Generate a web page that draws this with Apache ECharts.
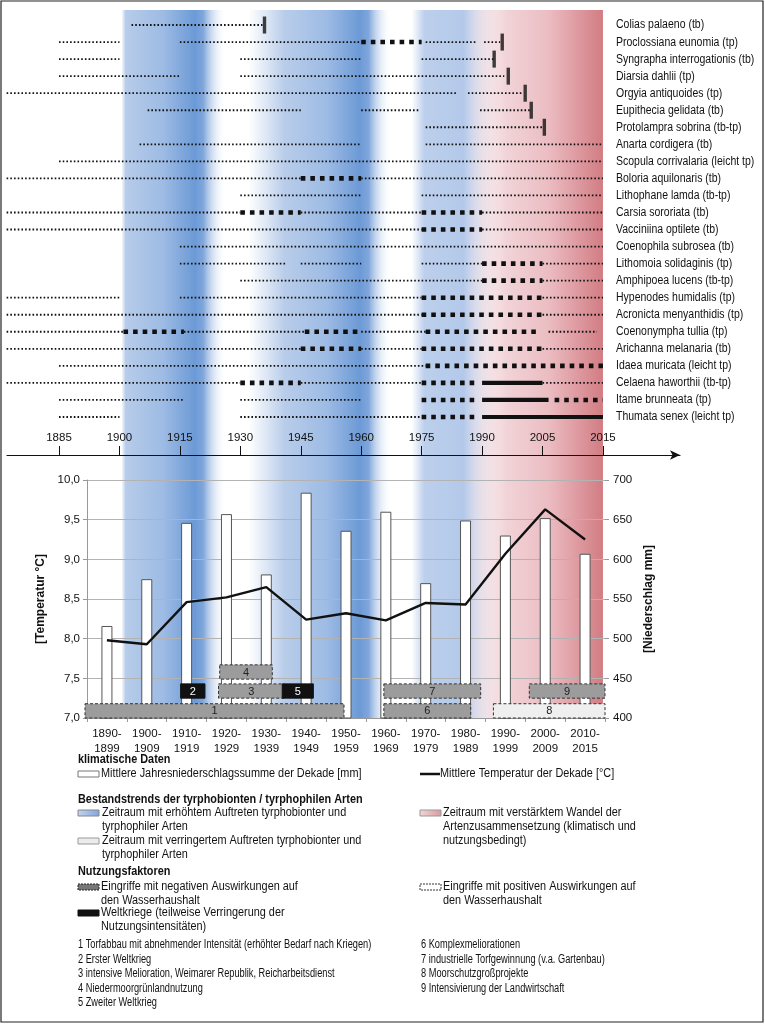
<!DOCTYPE html>
<html><head><meta charset="utf-8">
<script src="https://cdn.jsdelivr.net/npm/echarts@6/dist/echarts.min.js"></script>
<style>html,body{margin:0;padding:0;background:#fff}#c{width:765px;height:1024px}</style>
</head><body><div id="c"></div>
<script>
const FONT = '"Liberation Sans",Arial,sans-serif';

// ---------- DATA: timeline of species records ----------
const timelineTicks = ['1885','1900','1915','1930','1945','1960','1975','1990','2005','2015'];
const tickYears = [1885,1900,1915,1930,1945,1960,1975,1990,2005,2015];
const species = [
  'Colias palaeno (tb)','Proclossiana eunomia (tp)','Syngrapha interrogationis (tb)','Diarsia dahlii (tp)',
  'Orgyia antiquoides (tp)','Eupithecia gelidata (tb)','Protolampra sobrina (tb-tp)','Anarta cordigera (tb)',
  'Scopula corrivalaria (leicht tp)','Boloria aquilonaris (tb)','Lithophane lamda (tb-tp)','Carsia sororiata (tb)',
  'Vacciniina optilete (tb)','Coenophila subrosea (tb)','Lithomoia solidaginis (tp)','Amphipoea lucens (tb-tp)',
  'Hypenodes humidalis (tp)','Acronicta menyanthidis (tp)','Coenonympha tullia (tp)','Arichanna melanaria (tb)',
  'Idaea muricata (leicht tp)','Celaena haworthii (tb-tp)','Itame brunneata (tp)','Thumata senex (leicht tp)'
];
// record classes: r = vereinzelt, f = regelmäßig, a = häufig
const records = [
  [[1903,1935.5,'r']],
  [[1885,1900,'r'],[1915,1960,'r'],[1960,1975,'f'],[1976,1988.5,'r'],[1990.5,1994.5,'r']],
  [[1885,1900,'r'],[1930,1960,'r'],[1975,1992.8,'r']],
  [[1885,1915,'r'],[1930,1995.5,'r']],
  [[1872,1983.5,'r'],[1986.5,2000.2,'r']],
  [[1907,1945,'r'],[1960,1974.6,'r'],[1989.5,2002,'r']],
  [[1976,2005,'r']],
  [[1905,1960,'r'],[1976,2015,'r']],
  [[1885,2015,'r']],
  [[1872,1945,'r'],[1945,1960,'f'],[1960,2015,'r']],
  [[1930,1960,'r'],[1975,2015,'r']],
  [[1872,1930,'r'],[1930,1945,'f'],[1945,1975,'r'],[1975,1990,'f'],[1990,2015,'r']],
  [[1872,1975,'r'],[1975,1990,'f'],[1990,2015,'r']],
  [[1915,2015,'r']],
  [[1915,1941.5,'r'],[1945,1960,'r'],[1975,1990,'r'],[1990,2005,'f'],[2005,2015,'r']],
  [[1930,1990,'r'],[1990,2005,'f'],[2005,2015,'r']],
  [[1872,1900,'r'],[1915,1975,'r'],[1975,2005,'f'],[2005,2015,'r']],
  [[1872,1975,'r'],[1975,2005,'f'],[2005,2015,'r']],
  [[1872,1901,'r'],[1901,1916,'f'],[1916,1946,'r'],[1946,1960,'f'],[1960,1976,'r'],[1976,2004.5,'f'],[2006,2014,'r']],
  [[1872,1945,'r'],[1945,1960,'f'],[1960,1975,'r'],[1975,2005,'f'],[2005,2015,'r']],
  [[1885,1976,'r'],[1976,2015,'f']],
  [[1872,1930,'r'],[1930,1945,'f'],[1945,1975,'r'],[1975,1989,'f'],[1990,2005,'a'],[2005,2015,'r']],
  [[1885,1916,'r'],[1930,1960,'r'],[1975,1989,'f'],[1990,2006,'a'],[2007,2015,'f']],
  [[1885,1900,'r'],[1930,1975,'r'],[1975,1989,'f'],[1990,2015,'a']]
];
const lastRecord = [1936,1995,1993,1996.5,2000.7,2002.2,2005.3,null,null,null,null,null,null,null,null,null,null,null,null,null,null,null,null,null];
// periods of species trends: plus = erhöhtes Auftreten, change = verstärkter Wandel
const trendPeriods = [[1900.5,1926.5,'plus'],[1932,1967.5,'plus'],[1972.5,1994,'plus2'],[1986,2015,'change']];

// ---------- DATA: climate ----------
const decades = ['1890-\n1899','1900-\n1909','1910-\n1919','1920-\n1929','1930-\n1939','1940-\n1949','1950-\n1959','1960-\n1969','1970-\n1979','1980-\n1989','1990-\n1999','2000-\n2009','2010-\n2015'];
const precipitation = [516,575,646,657,581,684,636,660,570,649,630,652,607];
const temperature = [7.98,7.93,8.46,8.52,8.65,8.24,8.32,8.23,8.45,8.43,9.07,9.63,9.25];
// land use factors: [number, from, to, row, kind]
const measures = [
  [1,1889.5,1954.5,0,'neg'],[2,1913.5,1919.6,1,'war'],[3,1923,1939.5,1,'neg'],[4,1923.3,1936.5,2,'neg'],
  [5,1939,1946.8,1,'war'],[6,1964.5,1986.3,0,'neg'],[7,1964.5,1988.8,1,'neg'],[8,1992,2020,0,'pos'],[9,2001,2020,1,'neg']
];

// ---------- helpers ----------
function yearPos(y){
  const t = tickYears, n = t.length - 1;
  if (y <= t[0]) return (y - t[0]) / (t[1] - t[0]);
  for (let i = 0; i < n; i++) if (y <= t[i+1]) return i + (y - t[i]) / (t[i+1] - t[i]);
  return n + (y - t[n]) / (t[n] - t[n-1]);
}
const CODES = ['r','f','a'];
const REC_STYLE = [
  {w:1.8, dash:[1.6,2.1]},
  {w:4.6, dash:[4.6,5]},
  {w:4.2, dash:null}
];
const BAND_STOPS = {
  plus1:[{offset:0,color:'rgba(183,204,233,0)'},{offset:0.04,color:'#b7cce9'},{offset:0.4,color:'#9dbbe4'},{offset:0.7,color:'#6c9ad6'},{offset:0.78,color:'#80a6db'},{offset:1,color:'rgba(255,255,255,0)'}],
  plus2:[{offset:0,color:'rgba(190,208,236,0)'},{offset:0.25,color:'#b9cdea'},{offset:0.55,color:'#9dbbe4'},{offset:0.78,color:'#6c9ad6'},{offset:0.84,color:'#80a6db'},{offset:1,color:'rgba(255,255,255,0)'}],
  plus3:[{offset:0,color:'rgba(190,208,236,0)'},{offset:0.15,color:'#bccfec'},{offset:0.6,color:'#b4c9ea'},{offset:1,color:'rgba(200,205,230,0)'}],
  change:[{offset:0,color:'rgba(242,212,216,0)'},{offset:0.3,color:'#f1d3d7'},{offset:0.6,color:'#ebbdc2'},{offset:1,color:'#d27c83'}]
};
const MEAS_KINDS = ['neg','war','pos'];
const MEAS_ROWS = [[7.0,7.18],[7.25,7.43],[7.49,7.67]];

const PX = 60.44;              // pixels per tick step on the timeline
const XMIN = -52 / PX;
const XMAX_A = XMIN + 599 / PX;
const XMAX_B = XMIN + 673 / PX;
const SX = 0.87;               // horizontal condensing of text (narrow typeface look)

const recordData = [];
records.forEach((segs,row)=>segs.forEach(s=>recordData.push([yearPos(s[0]),yearPos(s[1]),row,CODES.indexOf(s[2])])));
const lastData = [];
lastRecord.forEach((y,row)=>{ if (y!=null) lastData.push([yearPos(y),row]); });
const bandData = trendPeriods.map(p=>[yearPos(p[0]),yearPos(p[1])]);
const bandStyle = (i)=>{
  const k = trendPeriods[i][2];
  if (k==='change') return BAND_STOPS.change;
  if (k==='plus2') return BAND_STOPS.plus3;
  return i===0 ? BAND_STOPS.plus1 : BAND_STOPS.plus2;
};
const measData = measures.map(m=>[m[0],m[1],m[2],m[3],MEAS_KINDS.indexOf(m[4])]);
const labelData = species.map((s,i)=>[XMAX_A,i]);

const chart = echarts.init(document.getElementById('c'), null, {renderer:'canvas', width:765, height:1024});

function txt(x,y,s,opt){
  opt = opt || {};
  return {type:'text', x:x, y:y, scaleX:opt.sx||SX, silent:true,
    style:{text:s, fill:'#111', font:(opt.bold?'bold ':'')+(opt.size||12.5)+'px '+FONT, verticalAlign:'middle', align:'left'}};
}
function rect(x,y,w,h,style){ return {type:'rect', shape:{x:x,y:y,width:w,height:h}, silent:true, style:style}; }
const LS = {size:12, sx:0.77};

const graphics = [
  rect(1,1,762,1021,{fill:'none',stroke:'#222',lineWidth:1.2}),
  txt(78,760,'klimatische Daten',{bold:true}),
  rect(78,771,21,6,{fill:'#fff',stroke:'#777',lineWidth:1}),
  txt(101,774,'Mittlere Jahresniederschlagssumme der Dekade [mm]'),
  {type:'line', shape:{x1:420,y1:774,x2:440,y2:774}, style:{stroke:'#111',lineWidth:2.5}, silent:true},
  txt(440,774,'Mittlere Temperatur der Dekade [°C]'),
  txt(78,800,'Bestandstrends der tyrphobionten / tyrphophilen Arten',{bold:true}),
  rect(78,810,21,6,{fill:new echarts.graphic.LinearGradient(0,0,1,0,[{offset:0,color:'#c3d4ee'},{offset:1,color:'#7fa6dc'}]),stroke:'#888',lineWidth:1}),
  txt(102,813,'Zeitraum mit erhöhtem Auftreten tyrphobionter und'),
  txt(102,827,'tyrphophiler Arten'),
  rect(78,838,21,6,{fill:'#ececec',stroke:'#999',lineWidth:1}),
  txt(102,841,'Zeitraum mit verringertem Auftreten tyrphobionter und'),
  txt(102,855,'tyrphophiler Arten'),
  rect(420,810,21,6,{fill:new echarts.graphic.LinearGradient(0,0,1,0,[{offset:0,color:'#f2d6d9'},{offset:1,color:'#d99aa0'}]),stroke:'#999',lineWidth:1}),
  txt(443,813,'Zeitraum mit verstärktem Wandel der'),
  txt(443,827,'Artenzusammensetzung (klimatisch und'),
  txt(443,841,'nutzungsbedingt)'),
  txt(78,872,'Nutzungsfaktoren',{bold:true}),
  rect(78,884,21,6,{fill:'#777',stroke:'#222',lineWidth:1,lineDash:[2,1]}),
  txt(101,887,'Eingriffe mit negativen Auswirkungen auf'),
  txt(101,901,'den Wasserhaushalt'),
  rect(420,884,21,6,{fill:'#fff',stroke:'#333',lineWidth:1,lineDash:[2,1]}),
  txt(443,887,'Eingriffe mit positiven Auswirkungen auf'),
  txt(443,901,'den Wasserhaushalt'),
  rect(78,910,21,6,{fill:'#111',stroke:'#111',lineWidth:1}),
  txt(101,913,'Weltkriege (teilweise Verringerung der'),
  txt(101,927,'Nutzungsintensitäten)'),
  txt(78,945,'1 Torfabbau mit abnehmender Intensität (erhöhter Bedarf nach Kriegen)',LS),
  txt(78,959.5,'2 Erster Weltkrieg',LS),
  txt(78,974,'3 intensive Melioration, Weimarer Republik, Reicharbeitsdienst',LS),
  txt(78,988.5,'4 Niedermoorgrünlandnutzung',LS),
  txt(78,1003,'5 Zweiter Weltkrieg',LS),
  txt(421,945,'6 Komplexmeliorationen',LS),
  txt(421,959.5,'7 industrielle Torfgewinnung (v.a. Gartenbau)',LS),
  txt(421,974,'8 Moorschutzgroßprojekte',LS),
  txt(421,988.5,'9 Intensivierung der Landwirtschaft',LS)
];

const tickIdx = timelineTicks.map((_,i)=>i);

const option = {
  animation:false,
  backgroundColor:'#fff',
  textStyle:{fontFamily:FONT},
  grid:[
    {left:7, top:16.5, width:599, height:409},
    {left:7, top:445, width:673, height:10},
    {left:7, top:10, width:599, height:708},
    {left:87, top:480, width:518, height:238}
  ],
  xAxis:[
    {gridIndex:0, type:'value', min:XMIN, max:XMAX_A, show:false},
    {gridIndex:1, type:'value', min:XMIN, max:XMAX_B,
      axisLine:{show:true, symbol:['none','arrow'], symbolSize:[7,10], lineStyle:{color:'#111',width:1.2}},
      axisTick:{show:true, inside:true, length:9, customValues:tickIdx, lineStyle:{color:'#111',width:1}},
      axisLabel:{show:true, inside:true, margin:11, customValues:tickIdx, color:'#111', fontSize:11.5, fontFamily:FONT,
        formatter:v=>timelineTicks[Math.round(v)]},
      splitLine:{show:false}},
    {gridIndex:2, type:'value', min:XMIN, max:XMAX_A, show:false},
    {gridIndex:3, type:'category', data:decades, boundaryGap:true,
      axisLine:{show:true, lineStyle:{color:'#999'}},
      axisTick:{show:true, length:4, lineStyle:{color:'#999'}},
      axisLabel:{color:'#111', fontSize:11.5, fontFamily:FONT, lineHeight:15, margin:8, interval:0}},
    {gridIndex:3, type:'value', min:1890, max:2020, show:false}
  ],
  yAxis:[
    {gridIndex:0, type:'category', data:species, inverse:true, position:'right', show:false},
    {gridIndex:1, type:'value', show:false},
    {gridIndex:2, type:'value', min:0, max:1, show:false},
    {gridIndex:3, type:'value', min:7, max:10, interval:0.5, position:'left',
      name:'[Temperatur °C]', nameLocation:'middle', nameGap:25, nameRotate:90,
      nameTextStyle:{fontWeight:'bold', fontSize:12, color:'#111', fontFamily:FONT},
      axisLine:{show:true, lineStyle:{color:'#999'}}, axisTick:{show:true, length:4, lineStyle:{color:'#999'}},
      axisLabel:{color:'#111', fontSize:11.5, fontFamily:FONT, margin:7, formatter:v=>v.toFixed(1).replace('.',',')},
      splitLine:{show:true, lineStyle:{color:'#b3b3b3', width:1}}},
    {gridIndex:3, type:'value', min:400, max:700, interval:50, position:'right',
      name:'[Niederschlag mm]', nameLocation:'middle', nameGap:30, nameRotate:90,
      nameTextStyle:{fontWeight:'bold', fontSize:12, color:'#111', fontFamily:FONT},
      axisLine:{show:false}, axisTick:{show:true, length:4, lineStyle:{color:'#999'}},
      axisLabel:{color:'#111', fontSize:11.5, fontFamily:FONT, margin:8},
      splitLine:{show:false}}
  ],
  series:[
    {type:'custom', name:'Trends', xAxisIndex:2, yAxisIndex:2, z:-1, silent:true, clip:false,
      data:bandData, encode:{x:[0,1]},
      renderItem:(params,api)=>{
        const a = api.coord([api.value(0),1]);
        const b = api.coord([api.value(1),0]);
        return {type:'rect', shape:{x:a[0],y:a[1],width:b[0]-a[0],height:b[1]-a[1]},
          style:{fill:new echarts.graphic.LinearGradient(0,0,1,0,bandStyle(params.dataIndex))}};
      }},
    {type:'custom', name:'Nachweise', xAxisIndex:0, yAxisIndex:0, z:3, silent:true, clip:false,
      data:recordData, encode:{x:[0,1], y:2},
      renderItem:(params,api)=>{
        const a = api.coord([api.value(0),api.value(2)]);
        const b = api.coord([api.value(1),api.value(2)]);
        const st = REC_STYLE[api.value(3)];
        return {type:'line', shape:{x1:a[0],y1:a[1],x2:b[0],y2:b[1]},
          style:{stroke:'#111', lineWidth:st.w, lineDash:st.dash, lineCap:'butt'}};
      }},
    {type:'scatter', name:'letzter Nachweis', xAxisIndex:0, yAxisIndex:0, z:4, silent:true,
      symbol:'rect', symbolSize:[3.4,17], itemStyle:{color:'#111'}, data:lastData},
    {type:'custom', name:'Arten', xAxisIndex:0, yAxisIndex:0, z:4, silent:true, clip:false,
      data:labelData, encode:{x:0, y:1},
      renderItem:(params,api)=>{
        const p = api.coord([api.value(0),api.value(1)]);
        return {type:'text', x:p[0]+10, y:p[1], scaleX:0.84,
          style:{text:species[params.dataIndex], fill:'#111', font:'12.5px '+FONT, align:'left', verticalAlign:'middle'}};
      }},
    {type:'bar', name:'Niederschlag', xAxisIndex:3, yAxisIndex:4, z:2, barWidth:11,
      itemStyle:{color:'#fff', borderColor:'#555', borderWidth:1}, data:precipitation},
    {type:'line', name:'Temperatur', xAxisIndex:3, yAxisIndex:3, z:4, symbol:'none',
      lineStyle:{color:'#111', width:2.4}, data:temperature},
    {type:'custom', name:'Nutzung', xAxisIndex:4, yAxisIndex:3, z:5, silent:true, clip:false,
      data:measData, encode:{x:[1,2]},
      renderItem:(params,api)=>{
        const row = MEAS_ROWS[api.value(3)];
        const a = api.coord([api.value(1),row[1]]);
        const b = api.coord([api.value(2),row[0]]);
        const kind = MEAS_KINDS[api.value(4)];
        const fill = kind==='war' ? '#111' : (kind==='pos' ? '#efefef' : '#9c9c9c');
        const stroke = kind==='war' ? '#111' : '#333';
        return {type:'group', children:[
          {type:'rect', shape:{x:a[0],y:a[1],width:b[0]-a[0],height:b[1]-a[1]},
            style:{fill:fill, stroke:stroke, lineWidth:1, lineDash:kind==='war'?null:[3,2]}},
          {type:'text', x:(a[0]+b[0])/2, y:(a[1]+b[1])/2+0.5,
            style:{text:String(api.value(0)), fill:kind==='war'?'#fff':'#222', font:'11px '+FONT, align:'center', verticalAlign:'middle'}}
        ]};
      }}
  ],
  graphic:graphics
};
chart.setOption(option);
</script>
</body></html>
